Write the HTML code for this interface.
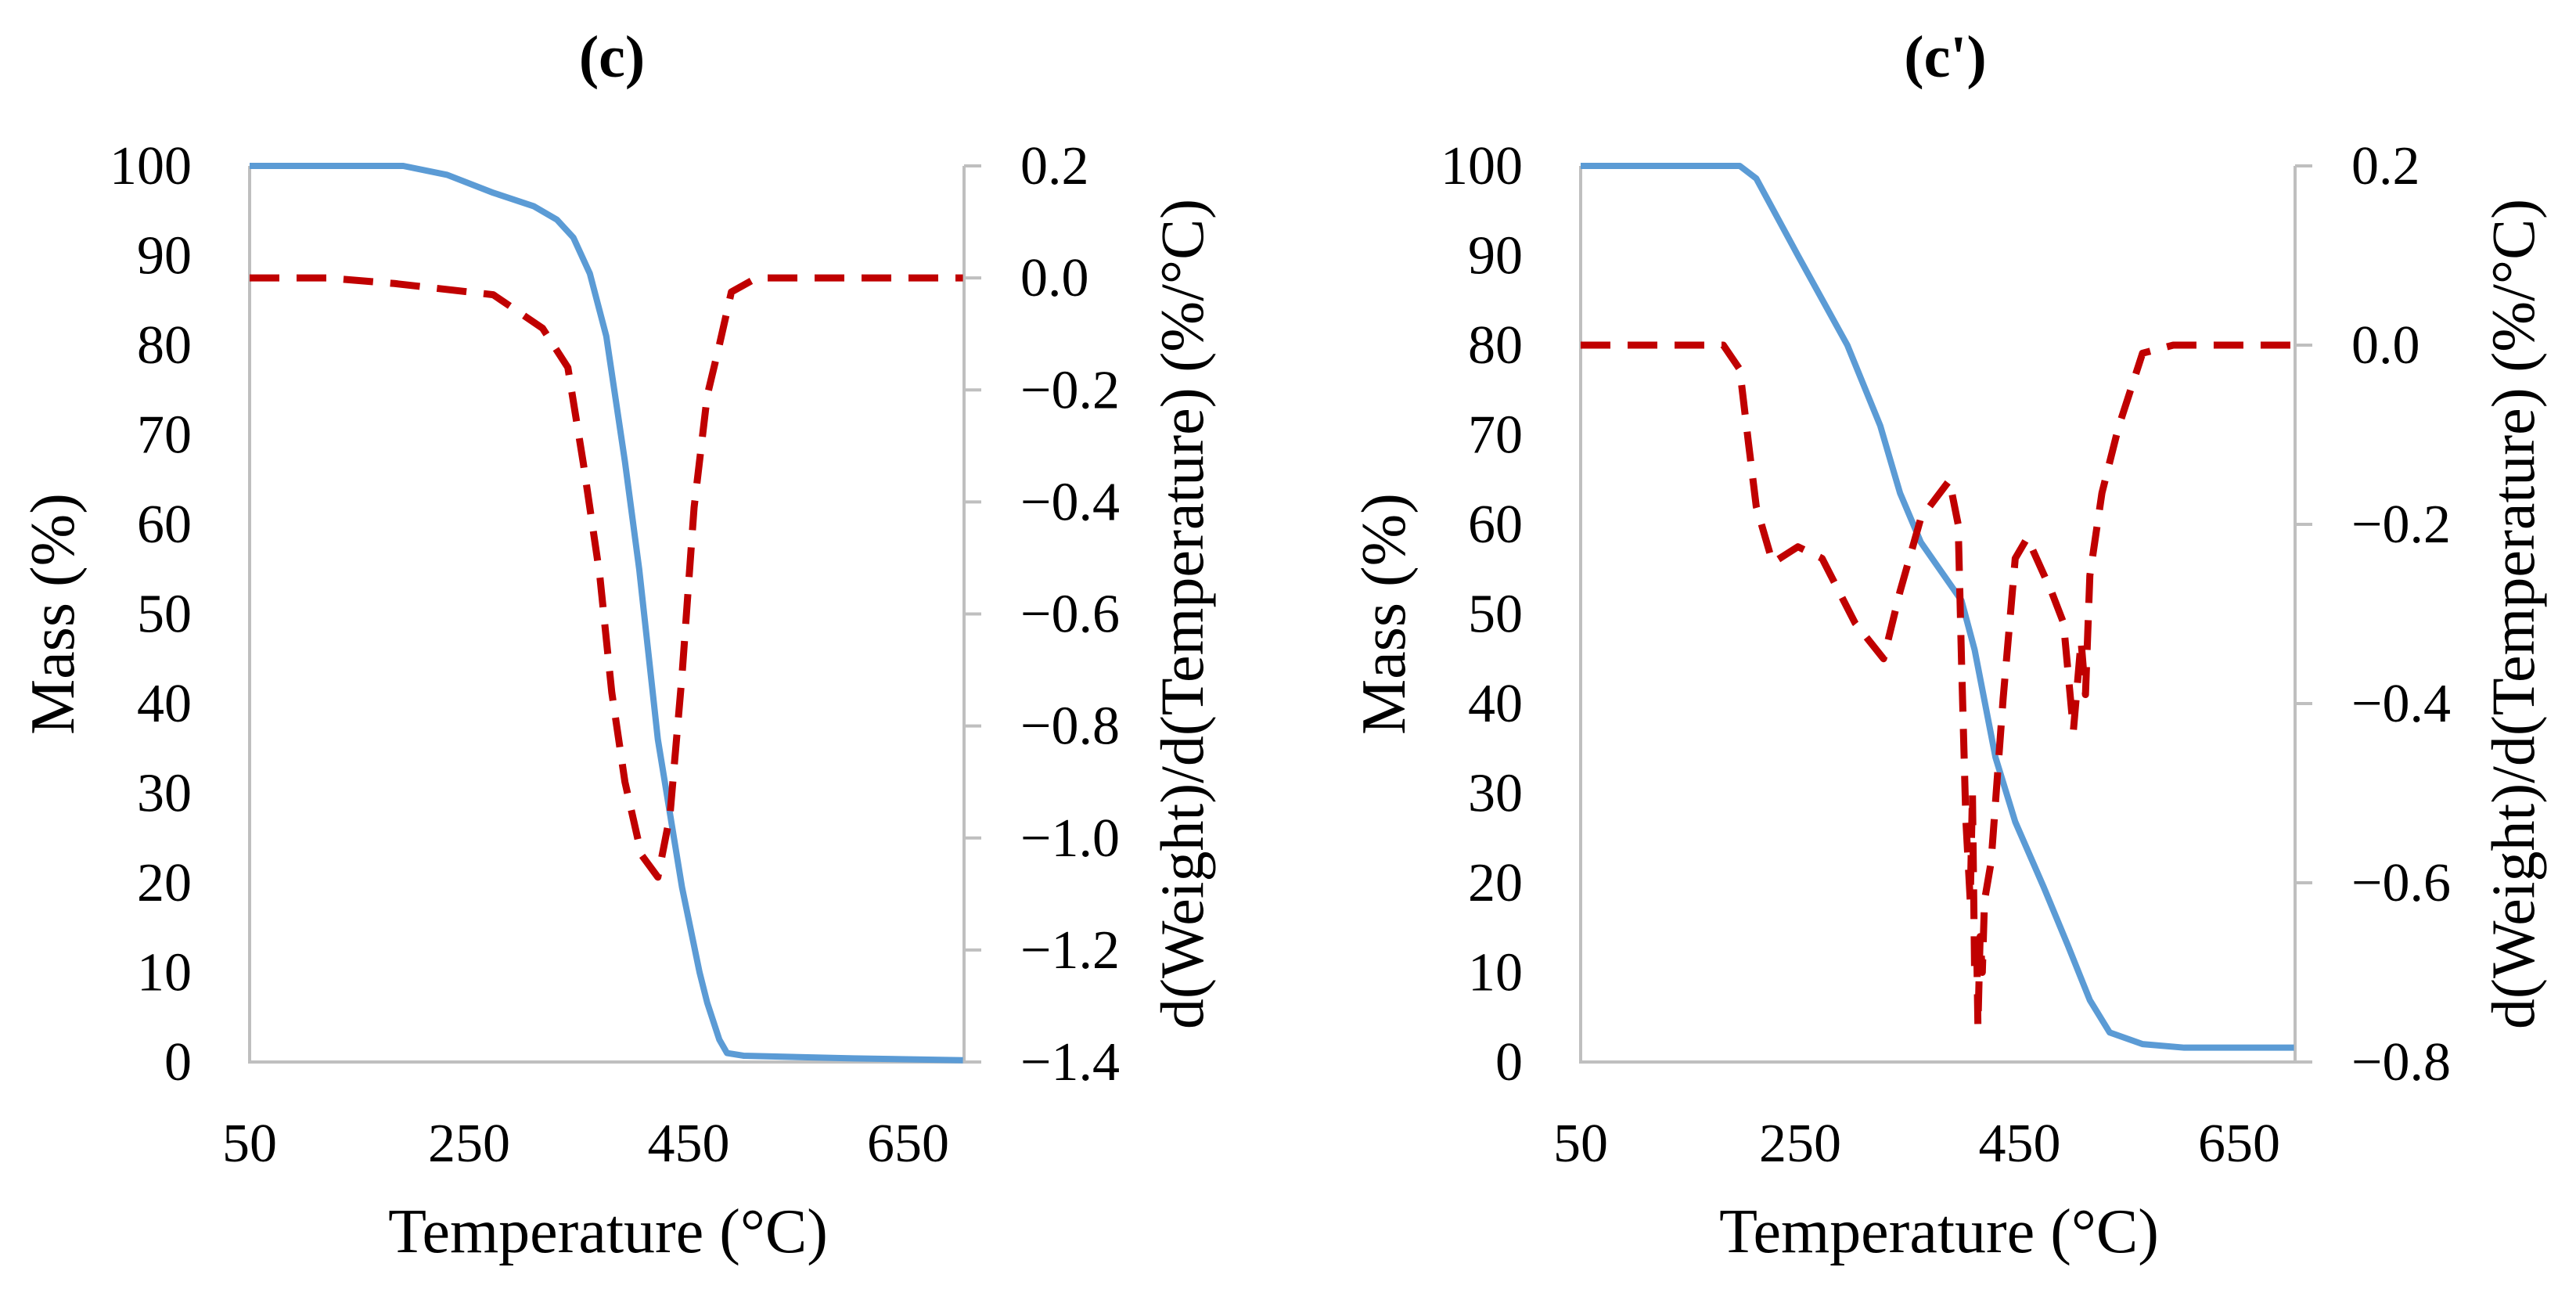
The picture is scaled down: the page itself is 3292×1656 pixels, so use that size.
<!DOCTYPE html>
<html><head><meta charset="utf-8">
<style>
html,body{margin:0;padding:0;background:#fff;}
svg{display:block;}
text{font-family:"Liberation Serif",serif;fill:#000;}
</style></head>
<body>
<svg id="chart" width="3292" height="1656" viewBox="0 0 3292 1656" xmlns="http://www.w3.org/2000/svg"></svg>
<script>
// ---- Data: panel (c) ----
const massTempC = [50,190,230,272,309,330,345,360,375,392,405,422,444,460,467,478,485,500,600,700];
const massValC  = [100,100,99,97,95.5,94,92,88,81,67,55,36,19.5,10,6.6,2.5,1,0.7,0.4,0.2];
const dtgTempC  = [50,120,182,272,317,340,354,369,380,392,407,422,433,444,455,467,478,489,512,600,700];
const dtgValC   = [0,0,-0.01,-0.03,-0.09,-0.16,-0.33,-0.53,-0.74,-0.90,-1.03,-1.07,-0.96,-0.71,-0.41,-0.21,-0.12,-0.025,0,0,0];
// ---- Data: panel (c') ----
const massTempC2 = [50,195,210,248,293,323,341,360,397,409,428,446,472,494,514,532,562,600,700];
const massValC2  = [100,100,98.6,90,80,71,63.5,58,51.5,46,34,26.8,19.5,13,6.9,3.3,2,1.6,1.6];
const dtgTempC2  = [50,180,195,203,210,225,248,270,300,326,341,360,386,394,397,401,405,407,409,411,412,414,416,418,424,435,446,457,479,490,499,506,510,514,525,540,562,590,700];
const dtgValC2   = [0,0,-0.027,-0.11,-0.18,-0.243,-0.225,-0.238,-0.31,-0.35,-0.275,-0.193,-0.151,-0.20,-0.35,-0.53,-0.62,-0.50,-0.70,-0.68,-0.76,-0.66,-0.70,-0.62,-0.577,-0.394,-0.238,-0.215,-0.275,-0.31,-0.43,-0.33,-0.39,-0.257,-0.165,-0.092,-0.009,0,0];
// ---- Tick labels ----
const xTicks = [50,250,450,650];
const massTicks = [0,10,20,30,40,50,60,70,80,90,100];
const dtgTicksC = [0.2,0.0,-0.2,-0.4,-0.6,-0.8,-1.0,-1.2,-1.4];
const dtgTicksC2 = [0.2,0.0,-0.2,-0.4,-0.6,-0.8];

const NS="http://www.w3.org/2000/svg";
const svg=document.getElementById('chart');
function mk(tag,attrs,parent){const e=document.createElementNS(NS,tag);for(const k in attrs)e.setAttribute(k,attrs[k]);(parent||svg).appendChild(e);return e;}
function fmt(v){const s=Math.abs(v).toFixed(1);return v<-1e-9?'\u2212'+s:s;}

function panel(o){
  const g=mk('g',{});
  
  
  const L=o.left,R=o.left+913,T=212,B=1357;
  const xs=t=>L+(t-50)*(R-L)/651;
  const ym=v=>B-(v/100)*(B-T);
  const yd=v=>T+(o.dmax-v)/(o.dmax-o.dmin)*(B-T);
  const ax=mk('path',{d:`M${L},${T}V${B}H${R}V${T}`,fill:'none',stroke:'#BFBFBF','stroke-width':4},g);
  
  
  o.dt.forEach(v=>{const tk=mk('line',{x1:R,x2:R+22,y1:yd(v),y2:yd(v),stroke:'#BFBFBF','stroke-width':4},g);
    
    
    const t=mk('text',{x:R+72,y:yd(v)+23,'font-size':70},g);t.textContent=fmt(v);
    
    });
  massTicks.forEach(v=>{const t=mk('text',{x:L-74,y:ym(v)+23,'font-size':70,'text-anchor':'end'},g);t.textContent=v;
    
    });
  xTicks.forEach(v=>{const t=mk('text',{x:xs(v),y:1484,'font-size':70,'text-anchor':'middle'},g);t.textContent=v;
    
    });
  let t=mk('text',{x:L+458,y:1600,'font-size':80,'text-anchor':'middle'},g);t.textContent='Temperature (°C)';
  
  
  t=mk('text',{x:0,y:0,'font-size':80,'text-anchor':'middle',transform:`translate(${L-225},${(T+B)/2}) rotate(-90)`},g);t.textContent='Mass (%)';
  
  
  t=mk('text',{x:0,y:0,'font-size':78,'text-anchor':'middle',transform:`translate(${R+305},${(T+B)/2}) rotate(-90)`},g);t.textContent='d(Weight)/d(Temperature)  (%/°C)';
  
  
  t=mk('text',{x:o.tx,y:98,'font-size':76,'font-weight':'bold','text-anchor':'middle'},g);t.textContent=o.title;
  
  
  const pm=mk('polyline',{points:o.mt.map((x,i)=>xs(x)+','+ym(o.mv[i])).join(' '),fill:'none',stroke:'#5B9BD5','stroke-width':8,'stroke-linejoin':'round'},g);
  
  
  const pd=mk('polyline',{points:o.dtT.map((x,i)=>xs(x)+','+yd(o.dtV[i])).join(' '),fill:'none',stroke:'#C00000','stroke-width':9,'stroke-dasharray':'38 22','stroke-linejoin':'round'},g);
  
  
}
panel({name:'panel-c',left:319,title:'(c)',tx:782,dmax:0.2,dmin:-1.4,dt:dtgTicksC,mt:massTempC,mv:massValC,dtT:dtgTempC,dtV:dtgValC});
panel({name:'panel-c-prime',left:2020,title:"(c')",tx:2486,dmax:0.2,dmin:-0.8,dt:dtgTicksC2,mt:massTempC2,mv:massValC2,dtT:dtgTempC2,dtV:dtgValC2});
</script>
</body></html>
